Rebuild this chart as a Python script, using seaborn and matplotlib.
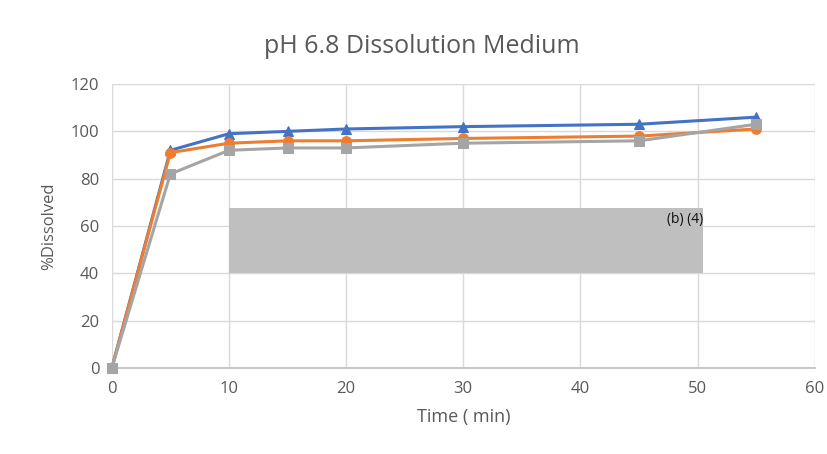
import matplotlib
matplotlib.use("Agg")
import matplotlib.pyplot as plt
import seaborn as sns
import pandas as pd
from matplotlib.patches import Rectangle

time = [0, 5, 10, 15, 20, 30, 45, 55]
series_a = [0, 92, 99, 100, 101, 102, 103, 106]   # blue triangles
series_b = [0, 91, 95, 96, 96, 97, 98, 101]       # orange circles
series_c = [0, 82, 92, 93, 93, 95, 96, 103]       # gray squares
series_names = ["A", "B", "C"]
colors = ["#4472C4", "#ED7D31", "#A5A5A5"]
markers = ["^", "o", "s"]
x_ticks = [0, 10, 20, 30, 40, 50, 60]
y_ticks = [0, 20, 40, 60, 80, 100, 120]
redact_x = [10, 50.5]
redact_y = [40, 67.5]
redact_label = "(b) (4)"

rows = []
for name, vals in zip(series_names, [series_a, series_b, series_c]):
    for t, v in zip(time, vals):
        rows.append({"Time": t, "Dissolved": v, "Series": name})
df = pd.DataFrame(rows)

sns.set_theme(style="white")
plt.rcParams['font.family'] = ['Open Sans', 'DejaVu Sans']

fig = plt.figure(figsize=(8.28, 4.54), dpi=100)
ax = fig.add_axes([0.135, 0.189, 0.849, 0.626])

# later series drawn on top (blue, then orange, then gray)
for k, name in enumerate(series_names):
    sub = df[df["Series"] == name]
    sns.lineplot(data=sub, x="Time", y="Dissolved", ax=ax, color=colors[k],
                 marker=markers[k], markersize=7, markeredgecolor=colors[k],
                 linewidth=2.2, legend=False, zorder=3 + k, clip_on=False)

ax.add_patch(Rectangle((redact_x[0], redact_y[0]), redact_x[1] - redact_x[0],
                       redact_y[1] - redact_y[0], facecolor="#BFBFBF",
                       edgecolor="none", zorder=6))
ax.text(redact_x[1], redact_y[1] - 1.5, redact_label, ha="right", va="top",
        fontsize=10, color="#111111", zorder=7)

ax.set_xlim(0, 60)
ax.set_ylim(0, 120)
ax.set_xticks(x_ticks)
ax.set_yticks(y_ticks)
ax.grid(True, color="#D9D9D9", linewidth=1)
for s in ["top", "right"]:
    ax.spines[s].set_visible(False)
ax.spines["left"].set_visible(False)
ax.spines["bottom"].set_color("#BFBFBF")
ax.spines["bottom"].set_linewidth(1.2)
ax.tick_params(axis="both", length=0, labelsize=12, labelcolor="#595959", pad=9)
ax.set_xlabel("Time ( min)", fontsize=13, color="#595959", labelpad=8)
ax.set_ylabel("%Dissolved", fontsize=12, color="#595959", labelpad=10)
fig.suptitle("pH 6.8 Dissolution Medium", x=0.51, y=0.925, fontsize=18, color="#595959")

fig.savefig("out.png", dpi=100)
